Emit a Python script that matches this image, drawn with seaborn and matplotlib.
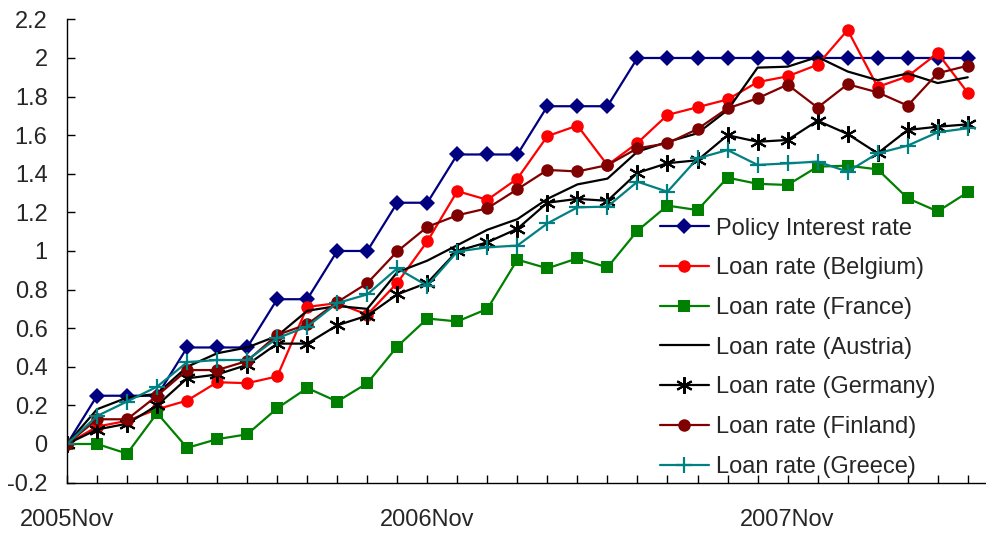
import matplotlib
matplotlib.use("Agg")
import matplotlib.pyplot as plt
import seaborn as sns
import pandas as pd

# Monthly observations, Nov 2005 .. May 2008 (change since Nov 2005, percentage points)
months = pd.period_range("2005-11", "2008-05", freq="M")
month_labels = [f"{p.year}{p.strftime('%b')}" for p in months]

policy = [0, 0.25, 0.25, 0.25, 0.5, 0.5, 0.5, 0.75, 0.75, 1.0, 1.0, 1.25, 1.25,
          1.5, 1.5, 1.5, 1.75, 1.75, 1.75, 2.0, 2.0, 2.0, 2.0, 2.0, 2.0, 2.0,
          2.0, 2.0, 2.0, 2.0, 2.0]
belgium = [0, 0.09, 0.12, 0.18, 0.225, 0.32, 0.315, 0.35, 0.71, 0.73, 0.67,
           0.835, 1.05, 1.31, 1.265, 1.375, 1.595, 1.65, 1.445, 1.56, 1.705,
           1.745, 1.785, 1.875, 1.905, 1.965, 2.145, 1.85, 1.905, 2.025, 1.82]
france = [0, 0.0, -0.05, 0.16, -0.02, 0.025, 0.05, 0.185, 0.29, 0.22, 0.315,
          0.505, 0.65, 0.635, 0.70, 0.955, 0.91, 0.962, 0.915, 1.105, 1.235,
          1.212, 1.38, 1.348, 1.342, 1.437, 1.442, 1.423, 1.273, 1.205, 1.304]
austria = [0, 0.18, 0.24, 0.26, 0.40, 0.47, 0.50, 0.56, 0.69, 0.715, 0.70,
           0.89, 0.95, 1.03, 1.11, 1.165, 1.27, 1.345, 1.375, 1.515, 1.565,
           1.61, 1.73, 1.95, 1.955, 2.005, 1.93, 1.885, 1.92, 1.87, 1.90]
germany = [0, 0.075, 0.105, 0.20, 0.34, 0.36, 0.41, 0.52, 0.52, 0.615, 0.665,
           0.775, 0.835, 1.0, 1.045, 1.115, 1.25, 1.27, 1.26, 1.405, 1.455,
           1.47, 1.60, 1.566, 1.575, 1.675, 1.606, 1.506, 1.627, 1.644, 1.656]
finland = [0, 0.128, 0.128, 0.25, 0.383, 0.383, 0.43, 0.565, 0.62, 0.735,
           0.833, 0.998, 1.125, 1.185, 1.221, 1.32, 1.42, 1.412, 1.445, 1.532,
           1.558, 1.632, 1.739, 1.791, 1.862, 1.743, 1.864, 1.822, 1.753,
           1.921, 1.96]
greece = [0, 0.145, 0.22, 0.297, 0.424, 0.435, 0.435, 0.548, 0.608, 0.73,
          0.775, 0.91, 0.82, 0.997, 1.019, 1.028, 1.143, 1.226, 1.23, 1.359,
          1.307, 1.48, 1.523, 1.446, 1.454, 1.463, 1.411, 1.506, 1.546, 1.615,
          1.636]

series_names = ["Policy Interest rate", "Loan rate (Belgium)", "Loan rate (France)",
                "Loan rate (Austria)", "Loan rate (Germany)", "Loan rate (Finland)",
                "Loan rate (Greece)"]
series_values = [policy, belgium, france, austria, germany, finland, greece]

styles = {
    "Policy Interest rate": dict(color="#000080", marker="D", ms=8.5, mew=0),
    "Loan rate (Belgium)": dict(color="#FF0000", marker="o", ms=9, mew=0),
    "Loan rate (France)": dict(color="#008000", marker="s", ms=8.5, mew=0),
    "Loan rate (Austria)": dict(color="#000000", marker=None, ms=0, mew=0),
    "Loan rate (Germany)": dict(color="#000000", marker=(6, 2, 0), ms=12, mew=1.5),
    "Loan rate (Finland)": dict(color="#800000", marker="o", ms=9, mew=0),
    "Loan rate (Greece)": dict(color="#008080", marker="+", ms=11, mew=1.6),
}

pos = list(range(len(months)))
frames = []
for name, vals in zip(series_names, series_values):
    frames.append(pd.DataFrame({"pos": pos, "value": vals, "series": name}))
df = pd.concat(frames, ignore_index=True)

sns.set_style("white")
plt.rcParams["font.family"] = ["Liberation Sans", "DejaVu Sans"]

fig = plt.figure(figsize=(9.86, 5.34), dpi=100)
ax = fig.add_axes([0.068, 0.0963, 0.95, 0.8674])

for name in series_names:
    st = styles[name]
    sub = df[df["series"] == name]
    sns.lineplot(data=sub, x="pos", y="value", ax=ax, color=st["color"],
                 marker=st["marker"], markersize=st["ms"],
                 markeredgewidth=st["mew"], markeredgecolor=st["color"],
                 linewidth=1.6, label=name, legend=False)

yticks = [round(-0.2 + 0.2 * k, 1) for k in range(13)]
ax.set_xlim(0, 31.2)
ax.set_ylim(-0.2, 2.2)
ax.set_yticks(yticks)
ax.set_yticklabels([f"{v:g}" for v in yticks])
ax.set_xticks(pos, minor=True)
ax.set_xticks([0, 12, 24])
ax.set_xticklabels([month_labels[i] for i in (0, 12, 24)])
ax.set_xlabel("")
ax.set_ylabel("")

for s in ("top", "right"):
    ax.spines[s].set_visible(False)
for s in ("left", "bottom"):
    ax.spines[s].set_color("#000000")
    ax.spines[s].set_linewidth(1.0)

ax.tick_params(axis="y", which="major", direction="in", length=6, width=1,
               color="black", labelsize=17, pad=14, left=True)
ax.tick_params(axis="x", which="both", direction="in", length=6, width=1,
               color="black", bottom=True)
ax.tick_params(axis="x", which="major", labelsize=17, pad=19)

handles, labels = ax.get_legend_handles_labels()
fig.legend(handles, labels, loc="upper left", bbox_to_anchor=(0.669, 0.5925),
           frameon=False, fontsize=17, handlelength=2.1, handletextpad=0.3,
           labelspacing=0.75, borderpad=0, borderaxespad=0)

fig.savefig("out.png", dpi=100, facecolor="white")
